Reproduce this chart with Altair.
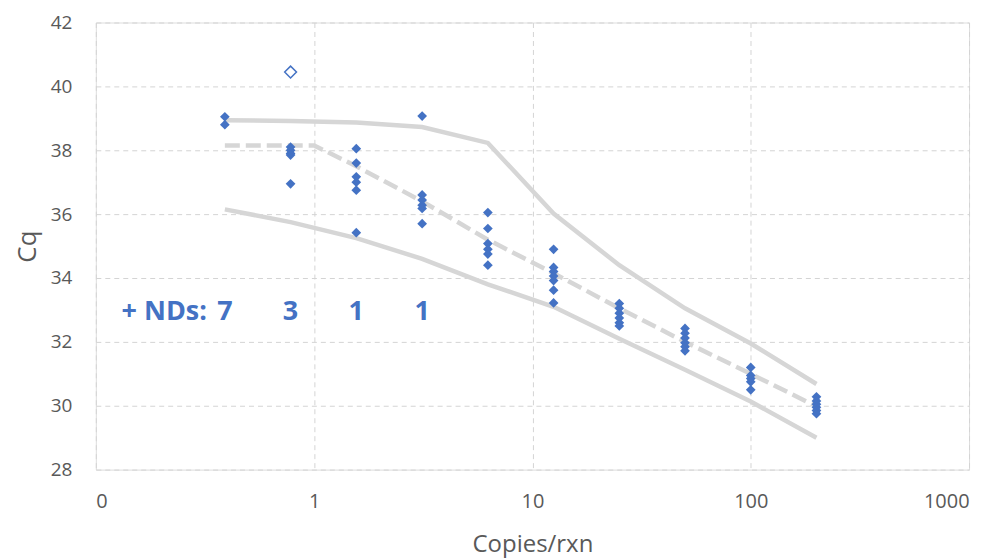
import altair as alt
import pandas as pd

# Replicate data (copies/rxn, Cq)
pt_x = ([0.39]*2 + [0.78]*5 + [1.56]*6 + [3.125]*6 + [6.25]*6 + [12.5]*7
        + [25]*6 + [50]*6 + [100]*5 + [200]*6)
pt_cq = ([39.05, 38.8,
          38.1, 38.0, 37.9, 37.85, 36.95,
          38.05, 37.6, 37.17, 37.0, 36.75, 35.42,
          39.07, 36.6, 36.44, 36.28, 36.18, 35.7,
          36.05, 35.55, 35.08, 34.9, 34.75, 34.4,
          34.9, 34.33, 34.2, 34.06, 33.92, 33.62, 33.22,
          33.2, 33.05, 32.9, 32.75, 32.6, 32.5,
          32.42, 32.27, 32.12, 31.97, 31.85, 31.72,
          31.2, 30.95, 30.85, 30.75, 30.5,
          30.28, 30.15, 30.05, 29.95, 29.85, 29.75])

# Outlier (open diamond)
out_x = [0.78]
out_cq = [40.45]

# Fit / bounds
mid_x = [0.39, 0.78, 1.0, 1.56, 3.125, 6.25, 12.5, 25, 50, 100, 200]
mid_cq = [38.15, 38.15, 38.15, 37.5, 36.4, 35.2, 34.15, 33.05, 32.0, 31.0, 29.98]
band_x = [0.39, 0.78, 1.56, 3.125, 6.25, 12.5, 25, 50, 100, 200]
upper_cq = [38.94, 38.92, 38.87, 38.73, 38.23, 36.02, 34.4, 33.05, 31.95, 30.68]
lower_cq = [36.15, 35.75, 35.25, 34.6, 33.8, 33.1, 32.1, 31.13, 30.13, 29.0]

# ND annotation
nd_x = [0.39, 0.78, 1.56, 3.125]
nd_txt = ["7", "3", "1", "1"]
nd_y = 32.95

blue = "#4472C4"
gray_line = "#d6d6d6"
font = "Open Sans"

xs = alt.Scale(type="log", domain=[0.1, 1000], nice=False)
ys = alt.Scale(domain=[28, 42], nice=False, zero=False)

pts = pd.DataFrame({"x": pt_x, "cq": pt_cq})
outl = pd.DataFrame({"x": out_x, "cq": out_cq})
mid = pd.DataFrame({"x": mid_x, "cq": mid_cq})
up = pd.DataFrame({"x": band_x, "cq": upper_cq})
lo = pd.DataFrame({"x": band_x, "cq": lower_cq})
nd = pd.DataFrame({"x": nd_x, "t": nd_txt, "cq": [nd_y]*4})
ndl = pd.DataFrame({"x": [nd_x[0]], "t": ["+ NDs:"], "cq": [nd_y]})

xaxis = alt.Axis(values=[0.1, 1, 10, 100, 1000],
                 labelExpr="datum.value < 0.5 ? '0' : format(datum.value, 'd')",
                 title="Copies/rxn", grid=True, gridDash=[5, 4], gridColor="#d4d4d4",
                 domain=False, ticks=False, labelPadding=22, labelFontSize=20,
                 labelColor="#595959", labelFont=font, titleFont=font, titleFontSize=24,
                 titleColor="#595959", titleFontWeight="normal", titleY=75,
                 titleBaseline="middle")
yaxis = alt.Axis(values=[28, 30, 32, 34, 36, 38, 40, 42], title="Cq", grid=True,
                 gridDash=[5, 4], gridColor="#d4d4d4", domain=False, ticks=False,
                 labelPadding=24, labelFontSize=19, labelColor="#595959", labelFont=font,
                 titleFont=font, titleFontSize=26, titleColor="#595959",
                 titleFontWeight="normal", titleX=-68, titleY=224, titleAngle=-90,
                 titleAlign="center", titleBaseline="middle")

base_x = alt.X("x:Q", scale=xs, axis=xaxis)
base_y = alt.Y("cq:Q", scale=ys, axis=yaxis)

upper_line = alt.Chart(up).mark_line(color=gray_line, strokeWidth=4.5).encode(
    x=base_x, y=base_y, order="x:Q")
lower_line = alt.Chart(lo).mark_line(color=gray_line, strokeWidth=4.5).encode(
    x=base_x, y=base_y, order="x:Q")
mid_line = alt.Chart(mid).mark_line(color=gray_line, strokeWidth=4.5, strokeDash=[15, 6]).encode(
    x=base_x, y=base_y, order="x:Q")
points = alt.Chart(pts).mark_point(shape="diamond", filled=True, color=blue, size=95, opacity=1).encode(
    x=base_x, y=base_y)
outlier = alt.Chart(outl).mark_point(shape="diamond", filled=False, color=blue, fill="white",
                                     size=140, strokeWidth=1.5, opacity=1).encode(x=base_x, y=base_y)
nd_text = alt.Chart(nd).mark_text(color=blue, fontSize=27, fontWeight="bold", font=font,
                                  align="center", baseline="middle").encode(
    x=base_x, y=base_y, text="t:N")
nd_label = alt.Chart(ndl).mark_text(color=blue, fontSize=27, fontWeight="bold", font=font,
                                    align="right", baseline="middle", dx=-18).encode(
    x=base_x, y=base_y, text="t:N")

chart = alt.layer(upper_line, lower_line, mid_line, points, outlier, nd_text, nd_label).properties(
    width=875, height=448,
    autosize=alt.AutoSizeParams(type="none"),
    padding={"left": 88, "top": 14, "right": 20, "bottom": 88},
).configure_view(stroke="#c8c8c8", strokeWidth=1).configure(background="white")

chart.save("out.html", embed_options={"renderer": "svg", "actions": False})
